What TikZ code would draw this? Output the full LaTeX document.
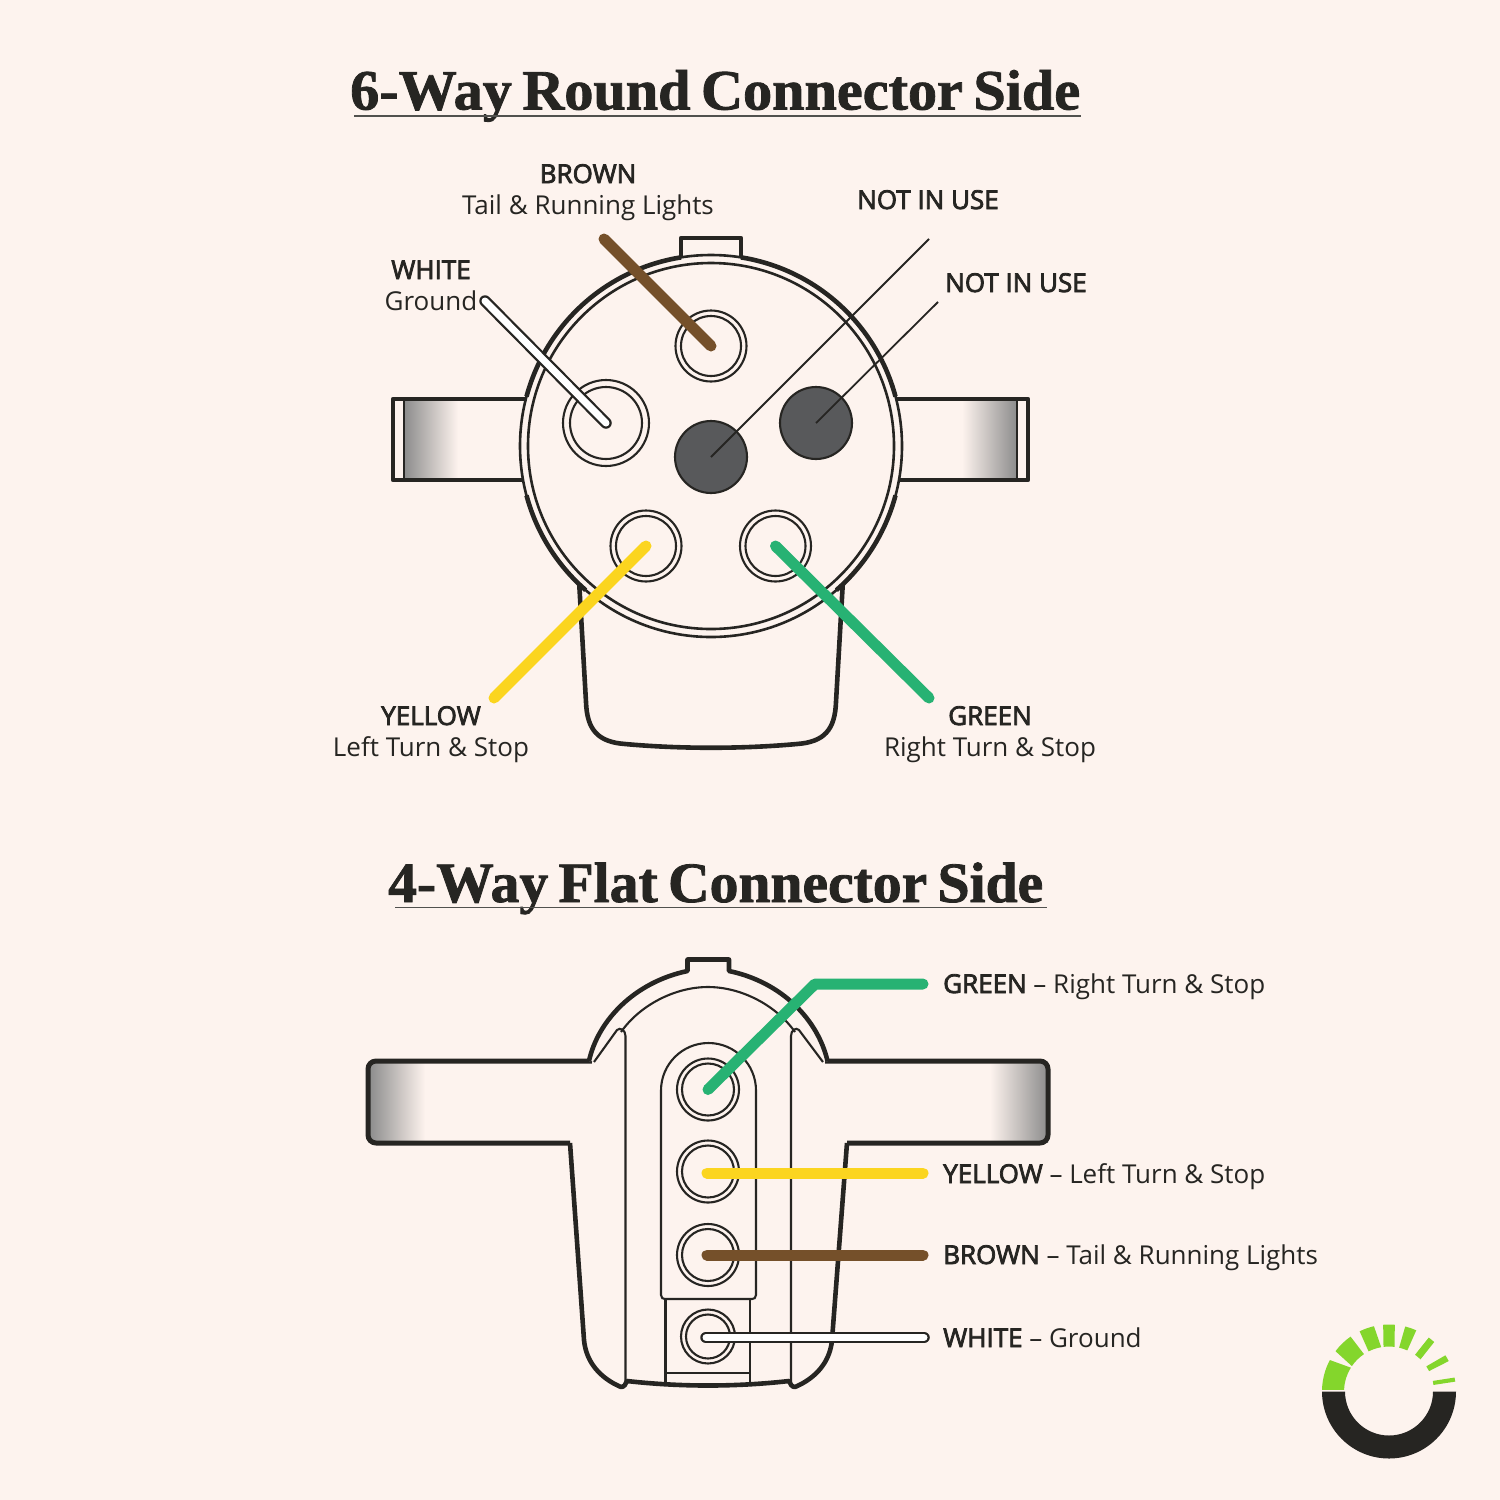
\documentclass[tikz,border=0pt]{standalone}
\usepackage{fontspec}
\setmainfont{Open Sans}
\newfontfamily\titlef[FakeBold=1.4]{Liberation Serif Bold}
\newfontfamily\medf[FakeBold=3]{Open Sans}
\definecolor{bg}{HTML}{FDF3EE}
\definecolor{ink}{HTML}{262522}
\definecolor{wbrown}{HTML}{75502A}
\definecolor{wyellow}{HTML}{FBD51F}
\definecolor{wgreen}{HTML}{27B273}
\definecolor{dpin}{HTML}{58595B}
\definecolor{lgreen}{HTML}{84D62C}
\definecolor{strapgray}{HTML}{8C8C8C}
\newcommand{\ttl}[2]{\resizebox{#1pt}{\height}{\fontsize{57}{57}\selectfont\titlef\spaceskip=0.18em plus 0pt minus 0pt #2}}
\tikzset{
  thickline/.style={draw=ink,line width=4.6pt,line join=round},
  thinline/.style={draw=ink,line width=2.6pt},
  hairline/.style={draw=ink,line width=2.1pt},
  wirebrown/.style={draw=wbrown,line width=11pt,line cap=round},
  wireyellow/.style={draw=wyellow,line width=11pt,line cap=round},
  wiregreen/.style={draw=wgreen,line width=11pt,line cap=round,line join=round},
  wireout/.style={draw=ink,line width=11.5pt,line cap=round},
  wirein/.style={draw=white,line width=7pt,line cap=round},
  pin/.style={hairline,fill=bg},
  lab/.style={anchor=base,font=\fontsize{26}{26}\selectfont,text=ink,inner sep=0pt},
  labl/.style={lab,anchor=base west},
  titlenode/.style={anchor=base west,text=ink,inner sep=0pt},
}
\newcommand{\mm}[1]{{\medf #1}}
\begin{document}
\begin{tikzpicture}[x=1pt,y=-1pt]
\useasboundingbox (0,0) rectangle (1500,1500);
\fill[bg] (0,0) rectangle (1500,1500);
% ---- titles
\node[titlenode] (title1) at (350,109.5) {\ttl{730}{6-Way Round Connector Side}};
\draw[draw=ink!80,line width=1.4pt] (354,116) -- (1081,116);
\node[titlenode] (title2) at (388,902) {\ttl{655}{4-Way Flat Connector Side}};
\draw[draw=ink!80,line width=1.4pt] (395,907.5) -- (1047,907.5);
% ---- 6-way: straps
\shade[left color=strapgray,right color=bg] (404,399) rectangle (458,480);
\shade[left color=bg,right color=strapgray] (962,399) rectangle (1017,480);
\draw[thickline] (530,399) -- (393,399) -- (393,480) -- (530,480);
\draw[thickline] (895,399) -- (1028,399) -- (1028,480) -- (895,480);
\draw[thinline] (404,399) -- (404,480);
\draw[thinline] (1017,399) -- (1017,480);
% ---- 6-way: lower body
\draw[thickline,fill=bg] (579,580) -- (586,702) .. controls (587,730) and (598,742) .. (625,744)
  .. controls (680,749) and (742,749) .. (797,744)
  .. controls (824,742) and (835,730) .. (836,702) -- (843,580);
% ---- 6-way: tab
\draw[thickline,fill=bg] (681,262) -- (681,238) -- (741,238) -- (741,262);
% ---- 6-way: face
\begin{scope}[shift={(711,446)},y=1pt]
  \fill[bg] (0,0) circle[radius=191];
  \draw[thinline] (0,0) circle[radius=191];
  \draw[thinline] (0,0) circle[radius=183];
  \draw[thickline] (165:191) arc[start angle=165,end angle=99,radius=191];
  \draw[thickline] (81:191) arc[start angle=81,end angle=15,radius=191];
  \draw[thickline] (195:191) arc[start angle=195,end angle=229,radius=191];
  \draw[thickline] (-15:191) arc[start angle=-15,end angle=-49,radius=191];
\end{scope}
% ---- 6-way: pins
\coordinate (pT) at (711,346);
\coordinate (pL) at (606,423);
\coordinate (pC) at (711,457);
\coordinate (pR) at (816,423);
\coordinate (pBL) at (646,546);
\coordinate (pBR) at (775.5,546);
\draw[pin] (pT) circle[radius=35.5]; \draw[pin] (pT) circle[radius=30];
\draw[pin] (pL) circle[radius=43]; \draw[pin] (pL) circle[radius=36];
\draw[pin] (pBL) circle[radius=35.5]; \draw[pin] (pBL) circle[radius=30];
\draw[pin] (pBR) circle[radius=35.5]; \draw[pin] (pBR) circle[radius=30];
\draw[hairline,fill=dpin] (pC) circle[radius=36];
\draw[hairline,fill=dpin] (pR) circle[radius=36];
% ---- 6-way: wires
\coordinate (eBrown) at (604,239);
\coordinate (eWhite) at (485,301);
\coordinate (eN1) at (929,239);
\coordinate (eN2) at (938,302);
\coordinate (eYellow) at (494,698);
\coordinate (eGreen) at (929,698);
\draw[wirebrown] (eBrown) -- (pT);
\draw[wireout] (eWhite) -- (pL);
\draw[wirein] (eWhite) -- (pL);
\draw[hairline,line width=1.8pt] (eN1) -- (pC);
\draw[hairline,line width=1.8pt] (eN2) -- (pR);
\draw[wireyellow] (eYellow) -- (pBL);
\draw[wiregreen] (eGreen) -- (pBR);
% ---- 6-way: labels
\node[lab] (l1) at (588,183) {\mm{BROWN}};
\node[lab] (l2) at (588,214) {Tail \& Running Lights};
\node[lab] (l3) at (928,209) {\mm{NOT IN USE}};
\node[lab] (l4) at (1016,292) {\mm{NOT IN USE}};
\node[lab] (l5) at (431,279) {\mm{WHITE}};
\node[lab] (l6) at (431,310) {Ground};
\node[lab] (l7) at (431,725) {\mm{YELLOW}};
\node[lab] (l8) at (431,756) {Left Turn \& Stop};
\node[lab] (l9) at (990,725) {\mm{GREEN}};
\node[lab] (l10) at (990,756) {Right Turn \& Stop};
% ---- 4-way: straps
\shade[left color=strapgray,right color=bg] (369,1062) rectangle (425,1142);
\shade[left color=bg,right color=strapgray] (990,1062) rectangle (1048,1142);
\draw[thickline,line width=5pt,rounded corners=8pt] (592,1061) -- (368,1061) -- (368,1143) -- (570,1143);
\draw[thickline,line width=5pt,rounded corners=8pt] (825,1061) -- (1048,1061) -- (1048,1143) -- (847,1143);
% ---- 4-way: body outline
\draw[thickline,fill=bg,line join=round] (589,1061)
  .. controls (598,1020) and (635,982) .. (687.5,971) -- (687.5,959.5) -- (729,959.5) -- (729,971)
  .. controls (782,982) and (818,1020) .. (827.5,1061);
\fill[bg] (592,1062) rectangle (825,1140);
\draw[thickline] (570,1143) -- (584,1340) .. controls (586,1362) and (600,1378) .. (621,1387)
  .. controls (624,1387) and (626,1384) .. (627,1381)
  .. controls (680,1387) and (736,1387) .. (789,1381)
  .. controls (790,1384) and (792,1387) .. (795,1387)
  .. controls (816,1378) and (830,1362) .. (832,1340) -- (847,1143);
% inner dome + columns
\draw[hairline] (594,1062) -- (617,1030) .. controls (620,1027) and (625.5,1030) .. (625.5,1036) -- (625.5,1382);
\draw[hairline] (823,1062) -- (799,1030) .. controls (796,1027) and (791,1030) .. (791,1036) -- (791,1382);
\draw[hairline] (621,1032) .. controls (640,1005) and (675,987) .. (708,987) .. controls (741,987) and (776,1005) .. (795,1032);
% plate
\draw[hairline,fill=bg] (661,1295) -- (661,1090.5) arc[start angle=180,end angle=360,radius=47.5] -- (756,1295)
  .. controls (756,1298) and (754,1299) .. (752,1299) -- (665,1299) .. controls (663,1299) and (661,1298) .. (661,1295) -- cycle;
\draw[hairline] (665.5,1299) -- (665.5,1384);
\draw[hairline] (750,1299) -- (750,1384);
\draw[hairline] (665.5,1373) -- (750,1373);
% ---- 4-way: pins
\coordinate (q1) at (708,1089.5);
\coordinate (q2) at (708,1171.5);
\coordinate (q3) at (708,1255);
\coordinate (q4) at (708,1336.5);
\foreach \q in {q1,q2,q3}{
  \draw[pin] (\q) circle[radius=31];
  \draw[pin] (\q) circle[radius=26];
}
\draw[pin] (q4) circle[radius=27];
\draw[pin] (q4) circle[radius=22];
% ---- 4-way: wires
\coordinate (eG) at (923,984);
\coordinate (bendG) at (815,984);
\coordinate (eY) at (923,1173);
\coordinate (eB) at (923,1255);
\coordinate (eW) at (924,1337.5);
\coordinate (sY) at (707,1173);
\coordinate (sB) at (707,1255);
\coordinate (sW) at (706,1337.5);
\draw[wiregreen] (q1) -- (bendG) -- (eG);
\draw[wireyellow] (sY) -- (eY);
\draw[wirebrown] (sB) -- (eB);
\draw[wireout] (sW) -- (eW);
\draw[wirein] (sW) -- (eW);
% ---- 4-way: labels
\node[labl] (m1) at (943,993) {\mm{GREEN} – Right Turn \& Stop};
\node[labl] (m2) at (943,1183) {\mm{YELLOW} – Left Turn \& Stop};
\node[labl] (m3) at (943,1264) {\mm{BROWN} – Tail \& Running Lights};
\node[labl] (m4) at (943,1347) {\mm{WHITE} – Ground};
% ---- logo
\begin{scope}[shift={(1389,1391.5)},y=1pt]
  \fill[ink] (180:67) arc[start angle=180,end angle=360,radius=67] -- (0:44) arc[start angle=360,end angle=180,radius=44] -- cycle;
  \foreach \a/\b/\ia/\ib in {178.5/152/178/148,143/125/145.6/123.8,116/103/117/100,95/85/97/83,76/66/77/66,53.6/47.6/54.7/45.6,32.7/27/34/27,12/8.5/13.6/8.4}{
    \fill[lgreen] (\a:67) arc[start angle=\a,end angle=\b,radius=67] -- (\ib:45) arc[start angle=\ib,end angle=\ia,radius=45] -- cycle;
  }
\end{scope}
\end{tikzpicture}
\end{document}
